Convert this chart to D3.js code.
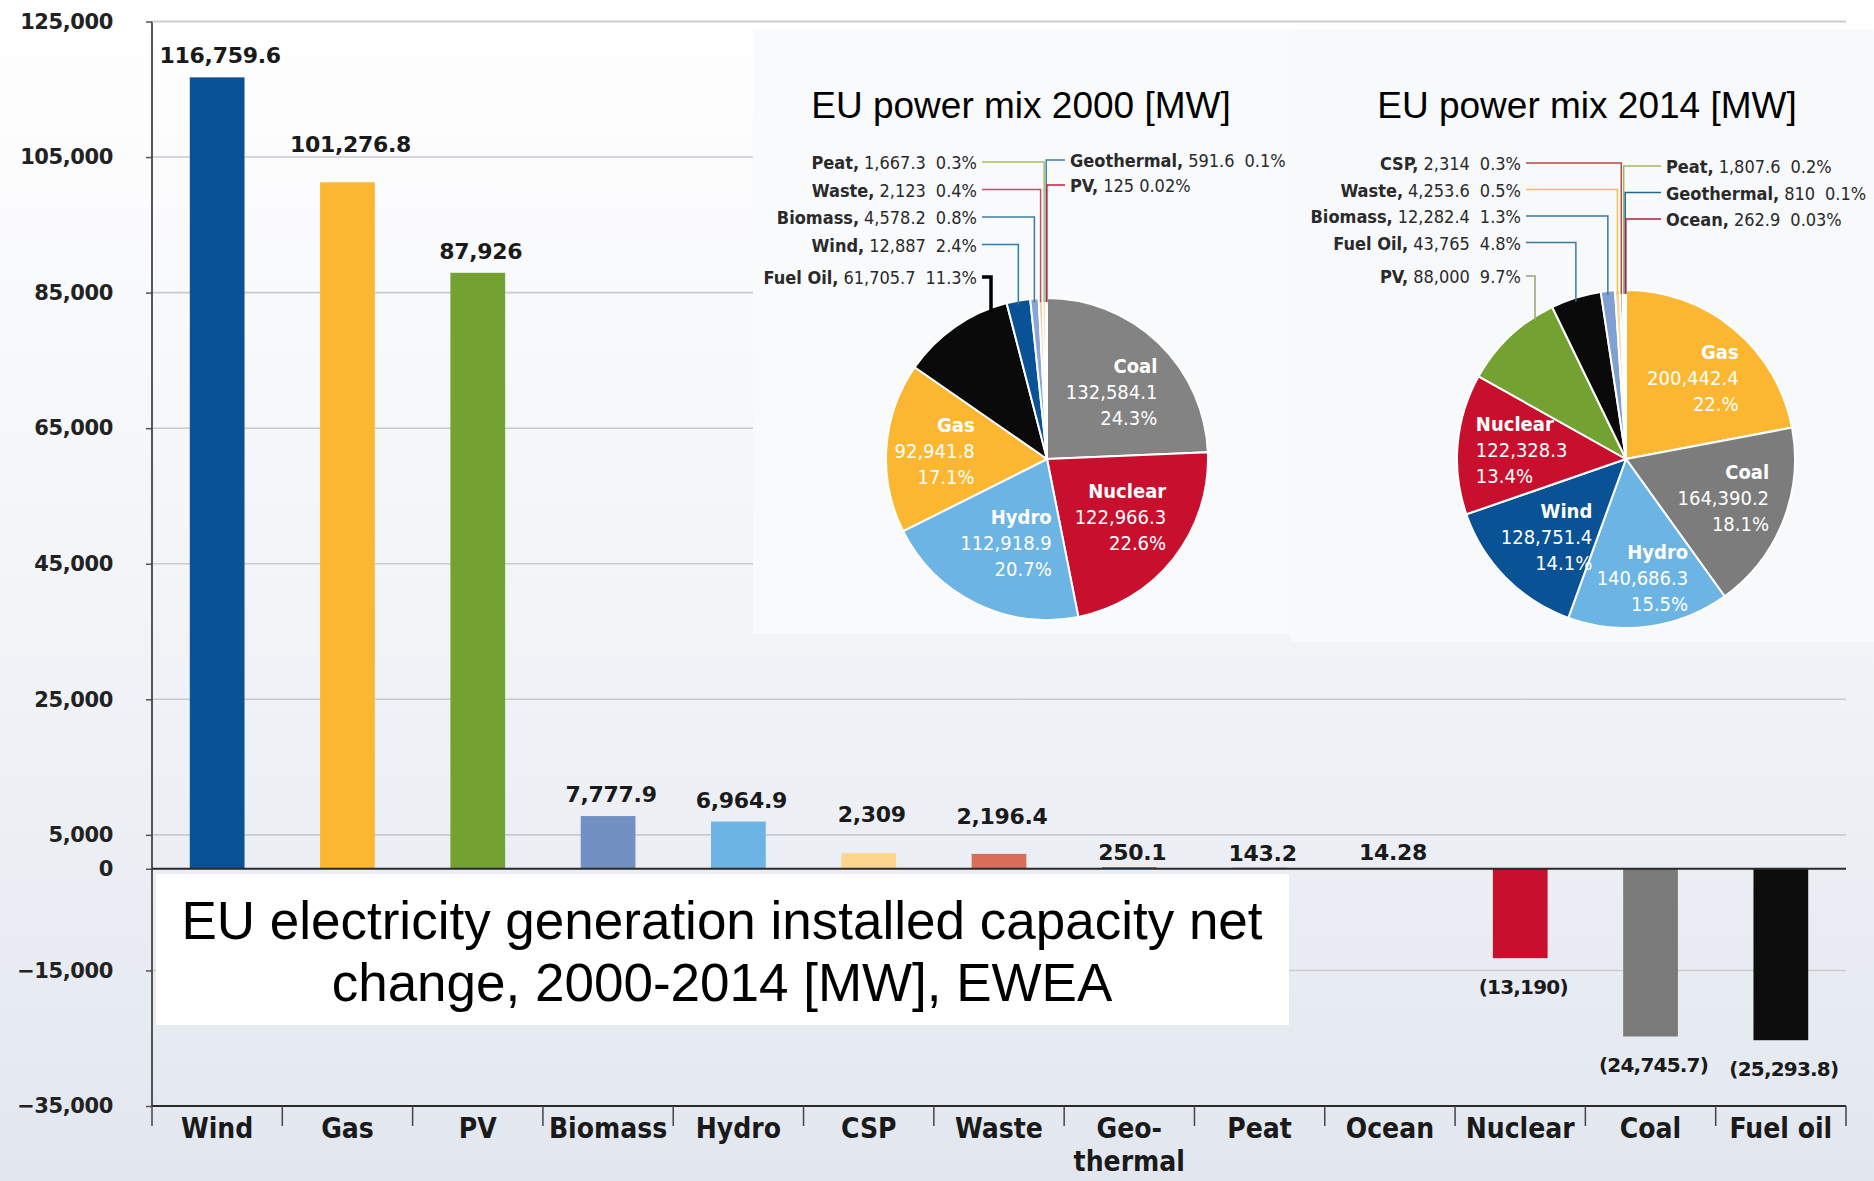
<!DOCTYPE html>
<html>
<head>
<meta charset="utf-8">
<script src="https://cdn.jsdelivr.net/npm/d3@7/dist/d3.min.js"></script>
<style>
  html, body { margin: 0; padding: 0; background: #fff; }
  svg { display: block; }
</style>
</head>
<body>
<svg id="chart" width="1874" height="1181"></svg>
<script>
// ---------------- DATA ----------------
const categories = ["Wind", "Gas", "PV", "Biomass", "Hydro", "CSP", "Waste", "Geothermal", "Peat", "Ocean", "Nuclear", "Coal", "Fuel oil"];
const categoryLabels = [["Wind"], ["Gas"], ["PV"], ["Biomass"], ["Hydro"], ["CSP"], ["Waste"], ["Geo-", "thermal"], ["Peat"], ["Ocean"], ["Nuclear"], ["Coal"], ["Fuel oil"]];
const netChange = [116759.6, 101276.8, 87926, 7777.9, 6964.9, 2309, 2196.4, 250.1, 143.2, 14.28, -13190, -24745.7, -25293.8];
const yTicks = [125000, 105000, 85000, 65000, 45000, 25000, 5000, 0, -15000, -35000];

const mix2000Sources = ["Coal", "Nuclear", "Hydro", "Gas", "Fuel Oil", "Wind", "Biomass", "Waste", "Peat", "Geothermal", "PV"];
const mix2000Values = [132584.1, 122966.3, 112918.9, 92941.8, 61705.7, 12887, 4578.2, 2123, 1667.3, 591.6, 125];
const mix2000Pct = ["24.3%", "22.6%", "20.7%", "17.1%", "11.3%", "2.4%", "0.8%", "0.4%", "0.3%", "0.1%", "0.02%"];

const mix2014Sources = ["Gas", "Coal", "Hydro", "Wind", "Nuclear", "PV", "Fuel Oil", "Biomass", "Waste", "CSP", "Peat", "Geothermal", "Ocean"];
const mix2014Values = [200442.4, 164390.2, 140686.3, 128751.4, 122328.3, 88000, 43765, 12282.4, 4253.6, 2314, 1807.6, 810, 262.9];
const mix2014Pct = ["22.%", "18.1%", "15.5%", "14.1%", "13.4%", "9.7%", "4.8%", "1.3%", "0.5%", "0.3%", "0.2%", "0.1%", "0.03%"];

const mainTitle = ["EU electricity generation installed capacity net", "change, 2000-2014 [MW], EWEA"];
const pieTitles = ["EU power mix 2000 [MW]", "EU power mix 2014 [MW]"];

// ---------------- STYLE / LAYOUT ----------------
const barColor = {
  "Wind": "#0a5296", "Gas": "#fbb731", "PV": "#74a232", "Biomass": "#7291c2", "Hydro": "#6cb4e4",
  "CSP": "#fcd68e", "Waste": "#d86d59", "Geothermal": "#c56a2c", "Peat": "#b51a40", "Ocean": "#3a7aa0",
  "Nuclear": "#c8102e", "Coal": "#7a7a7a", "Fuel oil": "#0d0d0d"
};
const labelLift = { "Gas": 16, "CSP": 17, "Waste": 16, "Geothermal": -7, "Peat": -7, "Ocean": -5 };
const sliceColor2000 = {
  "Coal": "#838383", "Nuclear": "#c8102e", "Hydro": "#6cb4e4", "Gas": "#fbb731", "Fuel Oil": "#0a0a0a",
  "Wind": "#0a5296", "Biomass": "#8aa6d8", "Waste": "#f2c89c", "Peat": "#eac77e", "Geothermal": "#4b86b4", "PV": "#c0143c"
};
const sliceColor2014 = {
  "Gas": "#fbb731", "Coal": "#7c7c7c", "Hydro": "#6cb4e4", "Wind": "#0a5296", "Nuclear": "#c8102e",
  "PV": "#74a232", "Fuel Oil": "#0a0a0a", "Biomass": "#7fa0d0", "Waste": "#f6d49a", "CSP": "#c0504d",
  "Peat": "#c9c27a", "Geothermal": "#3a7aa0", "Ocean": "#c0143c"
};
const leaderColor2000 = { "Peat": "#a9bf62", "Waste": "#c0506a", "Biomass": "#3f7ca4", "Wind": "#2b7fb0", "Fuel Oil": "#000", "Geothermal": "#3a80b0", "PV": "#c02040" };
const leaderColor2014 = { "CSP": "#b04a4a", "Waste": "#f0c244", "Biomass": "#3a7aa0", "Fuel Oil": "#3a7aa0", "PV": "#93a676", "Peat": "#aab262", "Geothermal": "#1d6a92", "Ocean": "#b02040" };

const W = 1874, H = 1181;
const plot = { left: 152, right: 1846, top: 21.5, bottom: 1106 };
const condensed = "'DejaVu Sans Condensed', 'DejaVu Sans', sans-serif";
const arial = "'Liberation Sans', Arial, sans-serif";

const svg = d3.select("#chart");
const defs = svg.append("defs");
const bg = defs.append("linearGradient").attr("id", "bg").attr("x1", 0).attr("y1", 0).attr("x2", 0).attr("y2", 1);
bg.append("stop").attr("offset", "0%").attr("stop-color", "#ffffff");
bg.append("stop").attr("offset", "55%").attr("stop-color", "#f1f3f7");
bg.append("stop").attr("offset", "100%").attr("stop-color", "#e2e7ef");
svg.append("rect").attr("width", W).attr("height", H).attr("fill", "url(#bg)");

// ---------------- SCALES ----------------
const y = d3.scaleLinear().domain([-35000, 125000]).range([plot.bottom, plot.top]);
const x = d3.scaleBand().domain(categories).range([plot.left, plot.right]).paddingInner(0.58).paddingOuter(0.29);

// gridlines
svg.append("g").selectAll("line").data(yTicks.filter(t => t !== 0 && t !== -35000)).join("line")
  .attr("x1", plot.left).attr("x2", plot.right)
  .attr("y1", d => y(d)).attr("y2", d => y(d))
  .attr("stroke", "#c9cacc").attr("stroke-width", 1.6);

// pie panels (cover gridlines)
svg.append("rect").attr("x", 753).attr("y", 29).attr("width", 537).attr("height", 605).attr("fill", "#f9fafc");
svg.append("rect").attr("x", 1290).attr("y", 29).attr("width", 584).attr("height", 613).attr("fill", "#f8f9fb");

// ---------------- BARS ----------------
const fmt = d3.format(",");
const barData = categories.map((c, i) => ({ cat: c, v: netChange[i], lab: categoryLabels[i] }));

svg.append("g").selectAll("rect").data(barData).join("rect")
  .attr("x", d => x(d.cat)).attr("width", x.bandwidth())
  .attr("y", d => y(Math.max(0, d.v)))
  .attr("height", d => Math.abs(y(d.v) - y(0)))
  .attr("fill", d => barColor[d.cat]);

svg.append("g").selectAll("text").data(barData).join("text")
  .attr("x", d => x(d.cat) + x.bandwidth() / 2 + 3)
  .attr("y", d => d.v >= 0 ? y(d.v) - 14 - (labelLift[d.cat] || 0) : y(d.v) + 36)
  .attr("text-anchor", "middle")
  .attr("font-family", "'DejaVu Sans', sans-serif").attr("font-weight", "bold")
  .attr("font-size", d => d.v >= 0 ? 22 : 20).attr("fill", "#1a1a1a")
  .attr("letter-spacing", d => d.v >= 0 ? -0.3 : -0.8)
  .text(d => d.v >= 0 ? fmt(d.v) : "(" + fmt(-d.v) + ")");

// ---------------- AXES ----------------
const yAxis = d3.axisLeft(y).tickValues(yTicks).tickSize(6).tickPadding(8).tickFormat(d3.format(","));
const gy = svg.append("g").attr("transform", `translate(${plot.left},0)`).call(yAxis);
gy.select(".domain").remove();
gy.selectAll(".tick line").attr("stroke", "#555").attr("stroke-width", 1.5);
gy.selectAll(".tick text").attr("font-family", "'DejaVu Sans', sans-serif").attr("font-weight", "bold")
  .attr("font-size", 21).attr("fill", "#222").attr("letter-spacing", -0.4).attr("x", -39);
svg.append("line").attr("x1", plot.left).attr("x2", plot.left).attr("y1", plot.top).attr("y2", plot.bottom)
  .attr("stroke", "#444").attr("stroke-width", 1.8);
// top gridline
svg.append("line").attr("x1", plot.left).attr("x2", plot.right).attr("y1", y(125000)).attr("y2", y(125000))
  .attr("stroke", "#c9cacc").attr("stroke-width", 1.6);
// zero line
svg.append("line").attr("x1", plot.left).attr("x2", plot.right).attr("y1", y(0)).attr("y2", y(0))
  .attr("stroke", "#2a2a2a").attr("stroke-width", 2.2);
// bottom axis
svg.append("line").attr("x1", plot.left).attr("x2", plot.right).attr("y1", y(-35000)).attr("y2", y(-35000))
  .attr("stroke", "#2a2a2a").attr("stroke-width", 2.2);
const halfGap = x.step() * x.paddingInner() / 2;
const bounds = categories.map(c => x(c) - halfGap).concat([x(categories[categories.length - 1]) + x.bandwidth() + halfGap]);
svg.append("g").selectAll("line").data(bounds).join("line")
  .attr("x1", d => d).attr("x2", d => d).attr("y1", y(-35000)).attr("y2", y(-35000) + 20)
  .attr("stroke", "#444").attr("stroke-width", 1.5);

const catG = svg.append("g").selectAll("text").data(barData).join("text")
  .attr("x", d => x(d.cat) + x.bandwidth() / 2)
  .attr("y", 1138)
  .attr("text-anchor", "middle")
  .attr("font-family", condensed).attr("font-weight", "bold").attr("font-size", 28).attr("fill", "#1a1a1a");
catG.selectAll("tspan").data(d => d.lab.map(t => ({ t, cx: x(d.cat) + x.bandwidth() / 2 }))).join("tspan")
  .attr("x", d => d.cx).attr("dy", (d, i) => i === 0 ? 0 : 33).text(d => d.t);

// ---------------- TITLE BOX ----------------
svg.append("rect").attr("x", 156).attr("y", 874).attr("width", 1133).attr("height", 151).attr("fill", "#ffffff");
svg.append("g").selectAll("text").data(mainTitle).join("text")
  .attr("x", 722).attr("y", (d, i) => 939 + i * 62)
  .attr("text-anchor", "middle").attr("font-family", arial).attr("font-size", 53).attr("fill", "#000")
  .text(d => d);

// ---------------- PIES ----------------
function drawPie(cfg) {
  const total = d3.sum(cfg.values);
  const data = cfg.sources.map((s, i) => ({ name: s, value: cfg.values[i], pct: cfg.pct[i], share: cfg.values[i] / total }));
  const arcs = d3.pie().sort(null).value(d => d.value)(data);
  const g = svg.append("g");
  const arcGen = d3.arc().innerRadius(0).outerRadius(cfg.r);
  g.selectAll("path").data(arcs).join("path")
    .attr("transform", `translate(${cfg.cx},${cfg.cy})`)
    .attr("d", arcGen)
    .attr("fill", d => cfg.colors[d.data.name])
    .attr("stroke", "#fff").attr("stroke-width", 2).attr("stroke-linejoin", "round");

  // title
  g.append("text").attr("x", cfg.titleX).attr("y", 118).attr("text-anchor", "middle")
    .attr("font-family", arial).attr("font-size", 37).attr("fill", "#000").text(cfg.title);

  // inner labels
  const inner = arcs.filter(d => d.data.share >= 0.12);
  inner.forEach(d => {
    const rf = (cfg.labelRadius[d.data.name] || cfg.labelRadiusDefault) * cfg.r;
    const c = d3.arc().innerRadius(rf).outerRadius(rf).centroid(d);
    const px = cfg.cx + c[0], py = cfg.cy + c[1];
    const lines = [
      { t: d.data.name, w: "bold" },
      { t: fmt(d.data.value), w: "normal" },
      { t: d.data.pct, w: "normal" }
    ];
    const tg = g.append("g");
    const texts = tg.selectAll("text").data(lines).join("text")
      .attr("y", (l, i) => py + (i - 1) * 26)
      .attr("dominant-baseline", "central")
      .attr("font-family", condensed).attr("font-weight", l => l.w)
      .attr("font-size", 20).attr("fill", "#ffffff")
      .text(l => l.t);
    let maxW = 0;
    texts.each(function () { maxW = Math.max(maxW, this.getComputedTextLength()); });
    const leftAlign = cfg.leftAligned.includes(d.data.name);
    texts.attr("text-anchor", leftAlign ? "start" : "end")
      .attr("x", leftAlign ? px - maxW / 2 : px + maxW / 2);
  });

  // leader labels
  const byName = {};
  arcs.forEach(a => byName[a.data.name] = a);
  const leaders = [];
  cfg.leftLabels.forEach((n, i) => leaders.push({ n, side: "left", ly: cfg.leftY0 + i * cfg.leftStep + (i === cfg.leftLabels.length - 1 ? cfg.lastExtra : 0) }));
  cfg.rightLabels.forEach((n, i) => leaders.push({ n, side: "right", ly: cfg.rightY0 + i * cfg.rightStep }));
  leaders.forEach(L => {
    const a = byName[L.n];
    const mid = (a.startAngle + a.endAngle) / 2;
    let vx = cfg.cx + cfg.r * Math.sin(mid);
    if (L.side === "left") vx = Math.max(vx, cfg.leftX + 14);
    const dx = vx - cfg.cx;
    const vy = cfg.cy - Math.sqrt(Math.max(0, cfg.r * cfg.r - dx * dx)) + 4;
    const hx = L.side === "left" ? cfg.leftX + 5 : cfg.rightX - 5;
    const lc = cfg.leaderColors[L.n];
    g.append("path")
      .attr("d", `M${hx},${L.ly} H${vx} V${vy}`)
      .attr("fill", "none").attr("stroke", lc)
      .attr("stroke-width", L.n === "Fuel Oil" && cfg.year === 2000 ? 3.5 : 1.5);
    const t = g.append("text")
      .attr("x", L.side === "left" ? cfg.leftX : cfg.rightX)
      .attr("y", L.ly).attr("dominant-baseline", "central")
      .attr("text-anchor", L.side === "left" ? "end" : "start")
      .attr("font-family", condensed).attr("font-size", 18).attr("fill", "#2a2a2a");
    t.append("tspan").attr("font-weight", "bold").text(a.data.name + ",");
    t.append("tspan").attr("dx", 5).text(fmt(a.data.value));
    t.append("tspan").attr("dx", a.data.name === "PV" && cfg.year === 2000 ? 5 : 10).text(a.data.pct);
  });
}

drawPie({
  year: 2000, sources: mix2000Sources, values: mix2000Values, pct: mix2000Pct,
  cx: 1047, cy: 459, r: 161, colors: sliceColor2000, leaderColors: leaderColor2000,
  title: pieTitles[0], titleX: 1021, leftAligned: [],
  labelRadiusDefault: 0.58, labelRadius: { "Gas": 0.7 },
  leftLabels: ["Peat", "Waste", "Biomass", "Wind", "Fuel Oil"], leftX: 977, leftY0: 162, leftStep: 27.5, lastExtra: 5,
  rightLabels: ["Geothermal", "PV"], rightX: 1070, rightY0: 160, rightStep: 25
});
drawPie({
  year: 2014, sources: mix2014Sources, values: mix2014Values, pct: mix2014Pct,
  cx: 1626, cy: 459, r: 169, colors: sliceColor2014, leaderColors: leaderColor2014,
  title: pieTitles[1], titleX: 1587, leftAligned: ["Nuclear"],
  labelRadiusDefault: 0.62, labelRadius: { "Hydro": 0.71, "Wind": 0.66 },
  leftLabels: ["CSP", "Waste", "Biomass", "Fuel Oil", "PV"], leftX: 1521, leftY0: 163, leftStep: 26.5, lastExtra: 7,
  rightLabels: ["Peat", "Geothermal", "Ocean"], rightX: 1666, rightY0: 166, rightStep: 26.5
});
</script>
</body>
</html>
